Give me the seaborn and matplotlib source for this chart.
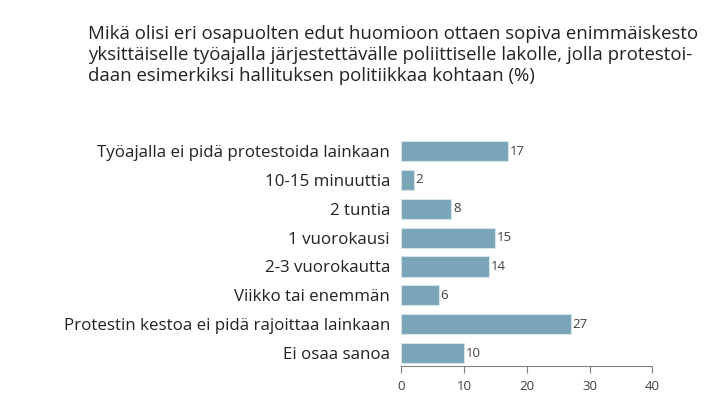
import matplotlib
matplotlib.use("Agg")
import matplotlib.pyplot as plt
import seaborn as sns
import pandas as pd

categories = [
    "Työajalla ei pidä protestoida lainkaan",
    "10-15 minuuttia",
    "2 tuntia",
    "1 vuorokausi",
    "2-3 vuorokautta",
    "Viikko tai enemmän",
    "Protestin kestoa ei pidä rajoittaa lainkaan",
    "Ei osaa sanoa",
]
values = [17, 2, 8, 15, 14, 6, 27, 10]
xticks = [0, 10, 20, 30, 40]
title = ("Mikä olisi eri osapuolten edut huomioon ottaen sopiva enimmäiskesto\n"
         "yksittäiselle työajalla järjestettävälle poliittiselle lakolle, jolla protestoi-\n"
         "daan esimerkiksi hallituksen politiikkaa kohtaan (%)")

sns.set_theme(style="white")
plt.rcParams["font.family"] = ["Open Sans", "DejaVu Sans"]

df = pd.DataFrame({"cat": categories, "val": values})

fig = plt.figure(figsize=(7.2, 4.09), dpi=100)
ax = fig.add_axes([0.557, 0.105, 0.349, 0.561])
sns.barplot(data=df, y="cat", x="val", orient="h", color="#7aa5b9",
            saturation=1, width=0.7, edgecolor="#d5e3ea", linewidth=0.8, ax=ax)

for i, v in enumerate(values):
    ax.text(v + 0.3, i, str(v), va="center", ha="left", fontsize=9.5, color="#404040")

ax.set_xlim(0, 40)
ax.set_ylim(7.45, -0.5)
ax.set_xticks(xticks)
ax.set_xticklabels([str(t) for t in xticks], fontsize=9.5, color="#404040")
ax.set_xlabel("")
ax.set_ylabel("")
ax.tick_params(axis="y", length=0, pad=8, labelsize=12.2, labelcolor="#222222")
ax.tick_params(axis="x", length=5, width=0.8, color="#808080", direction="out", pad=5,
               bottom=True)
for s in ["top", "right", "left"]:
    ax.spines[s].set_visible(False)
ax.spines["bottom"].set_color("#808080")
ax.spines["bottom"].set_linewidth(0.8)

fig.text(0.122, 0.94, title, ha="left", va="top", fontsize=13.4, color="#222222",
         linespacing=1.22)

fig.savefig("out.png", dpi=100)
